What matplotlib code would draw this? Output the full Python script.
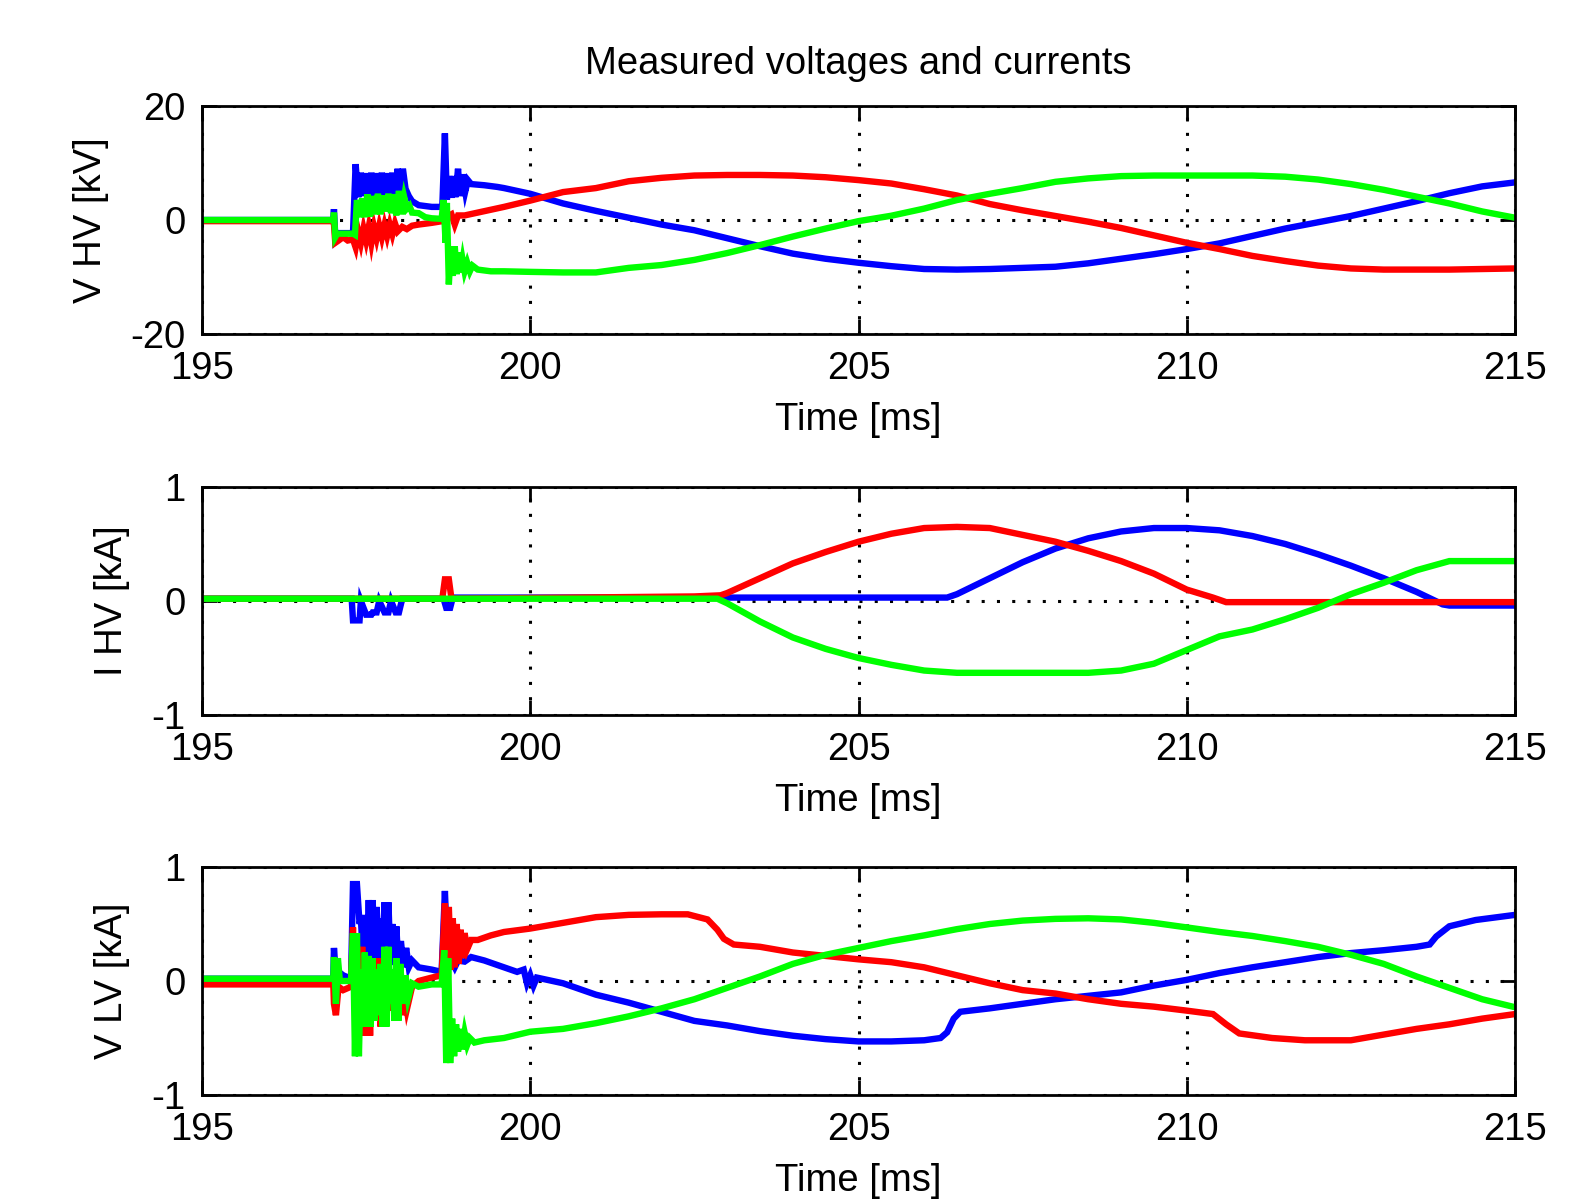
import matplotlib
matplotlib.use("Agg")
import matplotlib.pyplot as plt

plt.rcParams['font.family'] = ['Liberation Sans', 'DejaVu Sans']
plt.rcParams['axes.unicode_minus'] = False

# ---------------- data ----------------
TITLE = "Measured voltages and currents"
XLABEL = "Time [ms]"
YLABELS = ["V HV [kV]", "I HV [kA]", "V LV [kA]"]
XTICKS = [195, 200, 205, 210, 215]
YTICKS_1 = [-20, 0, 20]
YTICKS_23 = [-1, 0, 1]

# Panel 1: V HV [kV]
vhv_blue_t = [195.0, 197.0, 197.01, 197.03, 197.05, 197.30, 197.34, 197.38, 197.42, 197.46,
              197.50, 197.54, 197.58, 197.62, 197.66, 197.70, 197.74, 197.78, 197.82, 197.86,
              197.90, 197.94, 197.98, 198.02, 198.06, 198.10, 198.15, 198.20, 198.30, 198.50,
              198.66, 198.70, 198.73, 198.77, 198.80, 198.83, 198.86, 198.90, 198.93, 198.97,
              199.01, 199.05, 199.10, 199.30, 199.50,
              199.6, 200.0, 200.5, 201.0, 201.5, 202.0, 202.5, 203.0, 203.5, 204.0, 204.5,
              205.0, 205.5, 206.0, 206.5, 207.0, 207.5, 208.0, 208.5, 209.0, 209.5, 210.0,
              210.5, 211.0, 211.5, 212.0, 212.5, 213.0, 213.5, 214.0, 214.5, 215.0]
vhv_blue_v = [0.0, 0.0, 1.9, -2.8, -2.3, -2.3, 9.8, 4.0, 8.3, 4.2,
              8.2, 4.0, 8.3, 4.1, 8.2, 4.3, 8.3, 4.0, 8.2, 4.2,
              8.3, 4.1, 9.0, 4.2, 9.0, 5.5, 4.2, 3.3, 2.6, 2.3,
              2.3, 15.2, 3.6, 7.7, 3.9, 7.7, 4.0, 9.0, 4.2, 8.0,
              5.0, 7.0, 6.3, 6.1, 5.8,
              5.6, 4.6, 2.9, 1.6, 0.4, -0.8, -1.8, -3.2, -4.6, -5.9, -6.8,
              -7.5, -8.1, -8.6, -8.7, -8.6, -8.4, -8.2, -7.6, -6.8, -6.0, -5.1,
              -4.1, -2.8, -1.5, -0.4, 0.7, 2.0, 3.3, 4.7, 5.9, 6.6]

vhv_red_t = [195.0, 197.0, 197.01, 197.03, 197.08, 197.15, 197.22, 197.30, 197.34, 197.38,
             197.42, 197.46, 197.50, 197.54, 197.58, 197.62, 197.66, 197.70, 197.74, 197.78,
             197.82, 197.86, 197.90, 197.94, 197.98, 198.05, 198.12, 198.20, 198.30, 198.50,
             198.66, 198.72, 198.80, 198.85, 198.90, 199.00, 199.20, 199.40,
             199.6, 200.0, 200.5, 201.0, 201.5, 202.0, 202.5, 203.0, 203.5, 204.0, 204.5,
             205.0, 205.5, 206.0, 206.5, 207.0, 207.5, 208.0, 208.5, 209.0, 209.5, 210.0,
             210.5, 211.0, 211.5, 212.0, 212.5, 213.0, 213.5, 214.0, 214.5, 215.0]
vhv_red_v = [-0.2, -0.2, -0.7, -4.0, -3.6, -3.0, -3.6, -3.4, -4.8, -2.0,
             -4.0, -1.5, -3.6, -1.2, -4.0, -1.2, -3.2, -1.0, -3.0, -0.9,
             -2.8, -0.8, -2.5, -0.6, -2.0, -1.2, -1.6, -1.0, -0.8, -0.5,
             -0.2, 0.5, 1.0, -0.8, 0.8, 0.8, 1.3, 1.8,
             2.3, 3.4, 4.9, 5.6, 6.8, 7.4, 7.8, 7.9, 7.9, 7.8, 7.5,
             7.0, 6.4, 5.4, 4.3, 2.8, 1.7, 0.7, -0.3, -1.4, -2.7, -4.0,
             -5.1, -6.3, -7.2, -8.0, -8.5, -8.7, -8.7, -8.7, -8.6, -8.5]

vhv_green_t = [195.0, 197.0, 197.01, 197.03, 197.06, 197.30, 197.33, 197.36, 197.40, 197.44,
               197.48, 197.52, 197.56, 197.60, 197.64, 197.68, 197.72, 197.76, 197.80, 197.84,
               197.88, 197.92, 197.96, 198.00, 198.04, 198.08, 198.12, 198.16, 198.20, 198.30,
               198.40, 198.50, 198.65, 198.68, 198.71, 198.73, 198.76, 198.79, 198.82, 198.85,
               198.88, 198.91, 198.94, 198.97, 199.00, 199.04, 199.08, 199.12, 199.20, 199.40,
               199.6, 200.0, 200.5, 201.0, 201.5, 202.0, 202.5, 203.0, 203.5, 204.0, 204.5,
               205.0, 205.5, 206.0, 206.5, 207.0, 207.5, 208.0, 208.5, 209.0, 209.5, 210.0,
               210.5, 211.0, 211.5, 212.0, 212.5, 213.0, 213.5, 214.0, 214.5, 215.0]
vhv_green_v = [0.0, 0.0, 1.3, -3.0, -2.4, -2.4, -2.6, 3.5, 0.5, 3.8,
               0.5, 4.5, 0.6, 4.2, 1.0, 4.6, 1.0, 4.3, 1.5, 4.6,
               1.2, 4.5, 0.8, 5.1, 1.0, 4.0, 2.0, 2.5, 1.3, 1.2,
               0.5, 0.3, 0.2, 3.5, -4.0, 3.0, -11.3, -4.6, -9.8, -4.6,
               -9.5, -5.7, -9.2, -7.0, -9.0, -7.5, -9.0, -8.0, -8.7, -9.0,
               -9.0, -9.1, -9.2, -9.2, -8.4, -7.9, -7.0, -5.8, -4.4, -2.9, -1.5,
               -0.2, 0.75, 2.0, 3.5, 4.6, 5.6, 6.7, 7.3, 7.7, 7.8, 7.8,
               7.8, 7.8, 7.6, 7.1, 6.3, 5.3, 4.1, 2.9, 1.5, 0.4]

# Panel 2: I HV [kA]
ihv_blue_t = [195.0, 197.28, 197.30, 197.40, 197.42, 197.50, 197.58, 197.60, 197.66, 197.70,
              197.78, 197.84, 197.88, 197.95, 198.00, 198.05, 198.68, 198.72, 198.78, 198.82,
              206.35, 206.5, 207.0, 207.5, 208.0, 208.5, 209.0, 209.5, 210.0, 210.5,
              211.0, 211.5, 212.0, 212.5, 213.0, 213.5, 213.9, 214.0, 215.0]
ihv_blue_v = [0.02, 0.02, -0.17, -0.17, 0.0, -0.12, -0.12, -0.1, -0.1, 0.0,
              -0.1, -0.1, 0.0, -0.1, -0.1, 0.02, 0.02, -0.06, -0.06, 0.03,
              0.03, 0.06, 0.2, 0.34, 0.46, 0.55, 0.61, 0.64, 0.64, 0.62,
              0.57, 0.5, 0.41, 0.31, 0.2, 0.08, -0.03, -0.04, -0.04]

ihv_red_t = [195.0, 198.66, 198.70, 198.76, 198.80, 202.5, 202.9, 203.0, 203.5, 204.0,
             204.5, 205.0, 205.5, 206.0, 206.5, 207.0, 207.5, 208.0, 208.5, 209.0,
             209.5, 210.0, 210.4, 210.6, 215.0]
ihv_red_v = [0.02, 0.02, 0.19, 0.19, 0.02, 0.04, 0.05, 0.07, 0.2, 0.33,
             0.43, 0.52, 0.59, 0.64, 0.65, 0.64, 0.58, 0.52, 0.44, 0.35,
             0.24, 0.1, 0.03, -0.01, -0.01]

ihv_green_t = [195.0, 202.85, 203.0, 203.5, 204.0, 204.5, 205.0, 205.5, 206.0, 206.5,
               207.0, 207.5, 208.0, 208.5, 209.0, 209.5, 210.0, 210.5, 211.0, 211.5,
               212.0, 212.5, 213.0, 213.5, 214.0, 215.0]
ihv_green_v = [0.02, 0.02, -0.02, -0.18, -0.32, -0.42, -0.5, -0.56, -0.61, -0.63,
               -0.63, -0.63, -0.63, -0.63, -0.61, -0.55, -0.43, -0.31, -0.25, -0.16,
               -0.06, 0.06, 0.16, 0.27, 0.35, 0.35]

# Panel 3: V LV [kA]
vlv_blue_t = [195.0, 197.0, 197.01, 197.04, 197.06, 197.15, 197.27, 197.30, 197.36, 197.40,
              197.42, 197.45, 197.48, 197.51, 197.54, 197.57, 197.60, 197.63, 197.66, 197.69,
              197.72, 197.75, 197.78, 197.81, 197.84, 197.87, 197.90, 197.93, 197.96, 197.99,
              198.03, 198.07, 198.11, 198.15, 198.20, 198.30, 198.50, 198.65, 198.70, 198.74,
              198.78, 198.85, 198.90, 199.00, 199.10, 199.30, 199.50, 199.60, 199.80, 199.90,
              199.95, 200.00, 200.05, 200.10, 200.5, 201.0, 201.5, 202.0, 202.5, 203.0,
              203.5, 204.0, 204.5, 205.0, 205.5, 206.0, 206.25, 206.35, 206.45, 206.55,
              207.0, 207.5, 208.0, 208.5, 209.0, 209.5, 210.0, 210.5, 211.0, 211.5,
              212.0, 212.5, 213.0, 213.5, 213.7, 213.8, 214.0, 214.4, 215.0]
vlv_blue_v = [0.02, 0.02, 0.29, 0.05, 0.09, 0.05, 0.02, 0.85, 0.85, 0.5,
              0.55, 0.22, 0.58, 0.22, 0.71, 0.2, 0.71, 0.12, 0.65, 0.1,
              0.55, 0.25, 0.69, 0.2, 0.69, 0.15, 0.5, 0.14, 0.48, 0.15,
              0.35, 0.12, 0.29, 0.12, 0.18, 0.12, 0.1, 0.08, 0.79, 0.2,
              0.2, 0.12, 0.18, 0.17, 0.21, 0.18, 0.14, 0.12, 0.08, 0.1,
              -0.02, 0.05, -0.04, 0.03, -0.02, -0.12, -0.19, -0.27, -0.35, -0.39,
              -0.44, -0.48, -0.51, -0.53, -0.53, -0.52, -0.5, -0.45, -0.33, -0.27,
              -0.24, -0.2, -0.16, -0.13, -0.1, -0.04, 0.01, 0.07, 0.12, 0.165,
              0.21, 0.245, 0.27, 0.3, 0.32, 0.39, 0.48, 0.535, 0.58]

vlv_red_t = [195.0, 197.0, 197.01, 197.04, 197.08, 197.15, 197.27, 197.30, 197.33, 197.36,
             197.40, 197.44, 197.48, 197.52, 197.56, 197.60, 197.64, 197.68, 197.72, 197.76,
             197.80, 197.84, 197.88, 197.92, 197.96, 198.00, 198.04, 198.08, 198.12, 198.20,
             198.30, 198.50, 198.65, 198.70, 198.73, 198.76, 198.79, 198.82, 198.85, 198.88,
             198.91, 198.94, 198.97, 199.00, 199.04, 199.10, 199.20, 199.40,
             199.6, 200.0, 200.5, 201.0, 201.5, 202.0, 202.4, 202.7, 202.85, 202.95,
             203.1, 203.5, 204.0, 204.5, 205.0, 205.5, 206.0, 206.5, 207.0, 207.5,
             208.0, 208.5, 209.0, 209.5, 210.0, 210.4, 210.6, 210.8, 211.3, 211.8,
             212.5, 213.0, 213.5, 214.0, 214.5, 215.0]
vlv_red_v = [-0.03, -0.03, -0.2, -0.3, -0.05, -0.08, -0.05, 0.47, -0.2, 0.3,
             -0.3, 0.3, -0.48, 0.2, -0.48, 0.2, -0.3, 0.2, -0.4, 0.2,
             -0.3, 0.1, -0.26, 0.1, -0.2, 0.0, -0.3, -0.1, -0.25, -0.05,
             0.0, 0.03, 0.05, 0.68, 0.05, 0.65, 0.1, 0.55, 0.12, 0.5,
             0.15, 0.45, 0.2, 0.42, 0.28, 0.36, 0.36, 0.4,
             0.43, 0.46, 0.51, 0.56, 0.58, 0.585, 0.585, 0.54, 0.45, 0.37,
             0.32, 0.3, 0.25, 0.22, 0.19, 0.165, 0.12, 0.05, -0.02, -0.08,
             -0.11, -0.16, -0.2, -0.225, -0.26, -0.29, -0.38, -0.46, -0.5, -0.52,
             -0.52, -0.47, -0.42, -0.38, -0.33, -0.29]

vlv_green_t = [195.0, 197.0, 197.01, 197.04, 197.07, 197.10, 197.27, 197.30, 197.33, 197.36,
               197.39, 197.42, 197.45, 197.48, 197.51, 197.54, 197.57, 197.60, 197.63, 197.66,
               197.69, 197.72, 197.75, 197.78, 197.81, 197.84, 197.87, 197.90, 197.93, 197.96,
               197.99, 198.02, 198.06, 198.10, 198.14, 198.20, 198.30, 198.50, 198.65, 198.69,
               198.72, 198.75, 198.78, 198.81, 198.84, 198.87, 198.90, 198.93, 198.96, 199.00,
               199.04, 199.08, 199.15, 199.30,
               199.6, 200.0, 200.5, 201.0, 201.5, 202.0, 202.5, 203.0, 203.5, 204.0,
               204.5, 205.0, 205.5, 206.0, 206.5, 207.0, 207.5, 208.0, 208.5, 209.0,
               209.5, 210.0, 210.5, 211.0, 211.5, 212.0, 212.5, 213.0, 213.5, 214.0,
               214.5, 215.0]
vlv_green_v = [0.02, 0.02, 0.21, -0.2, 0.2, 0.0, 0.0, 0.42, -0.66, 0.42,
               -0.66, 0.1, -0.4, 0.25, -0.4, 0.22, -0.4, 0.2, -0.35, 0.1,
               -0.3, 0.15, -0.4, 0.3, -0.4, 0.3, -0.2, 0.1, -0.35, 0.2,
               -0.35, 0.15, -0.2, 0.05, -0.15, -0.02, -0.05, -0.03, -0.03, 0.27,
               -0.72, 0.2, -0.72, -0.33, -0.66, -0.38, -0.62, -0.42, -0.6, -0.45,
               -0.56, -0.5, -0.54, -0.52,
               -0.5, -0.445, -0.42, -0.37, -0.31, -0.24, -0.16, -0.06, 0.04, 0.15,
               0.23, 0.29, 0.35, 0.4, 0.455, 0.5, 0.53, 0.545, 0.55, 0.54,
               0.51, 0.47, 0.43, 0.395, 0.35, 0.3, 0.23, 0.15, 0.04, -0.06,
               -0.16, -0.23]

# ---------------- figure ----------------
W, H = 1589, 1201
fig = plt.figure(figsize=(W / 100, H / 100), dpi=100)

left = 202 / W
width = (1515 - 202) / W
height = 228 / H
bottoms = [1 - 334 / H, 1 - 715 / H, 1 - 1095 / H]

panels = [
    ((vhv_blue_t, vhv_blue_v), (vhv_red_t, vhv_red_v), (vhv_green_t, vhv_green_v), (-20, 20), YTICKS_1),
    ((ihv_blue_t, ihv_blue_v), (ihv_red_t, ihv_red_v), (ihv_green_t, ihv_green_v), (-1, 1), YTICKS_23),
    ((vlv_blue_t, vlv_blue_v), (vlv_red_t, vlv_red_v), (vlv_green_t, vlv_green_v), (-1, 1), YTICKS_23),
]

FS = 27.5
LW = 4.6
for i, (b, r, g, ylim, yt) in enumerate(panels):
    ax = fig.add_axes([left, bottoms[i], width, height])
    ax.set_axisbelow(True)
    ax.grid(True, color='black', linestyle=(0, (1, 4)), linewidth=2.2)
    ax.plot(b[0], b[1], color=(0, 0, 1), lw=LW, solid_joinstyle='miter')
    ax.plot(r[0], r[1], color=(1, 0, 0), lw=LW, solid_joinstyle='miter')
    ax.plot(g[0], g[1], color=(0, 1, 0), lw=LW, solid_joinstyle='miter')
    ax.set_xlim(195, 215)
    ax.set_ylim(*ylim)
    ax.set_xticks(XTICKS)
    ax.set_yticks(yt)
    ax.set_xticklabels([str(v) for v in XTICKS])
    ax.set_yticklabels([str(v) for v in yt])
    for s in ax.spines.values():
        s.set_linewidth(2.0)
    ax.tick_params(direction='in', top=True, right=True, length=10.5, width=2.0,
                   labelsize=FS)
    ax.tick_params(axis='x', pad=12)
    ax.tick_params(axis='y', pad=12)
    ax.set_xlabel(XLABEL, fontsize=FS, labelpad=11)
    ax.set_ylabel(YLABELS[i], fontsize=FS, labelpad=15)
    if i == 0:
        ax.set_title(TITLE, fontsize=FS, pad=23)

fig.savefig("out.png", dpi=100)
